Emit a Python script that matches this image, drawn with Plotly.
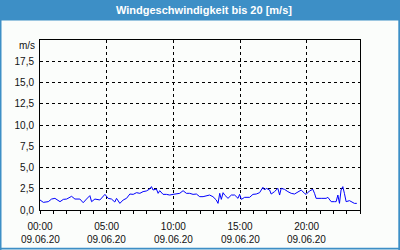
import plotly.graph_objects as go

hours = [0.00, 0.25, 0.62, 0.87, 1.12, 1.50, 1.75, 2.00, 2.37, 2.62, 2.99, 3.24, 3.49, 3.74, 3.87,
         4.12, 4.49, 4.87, 5.11, 5.36, 5.61, 5.74, 5.99, 6.24, 6.49, 6.74, 6.99, 7.24, 7.49, 7.73,
         7.98, 8.23, 8.36, 8.48, 8.73, 8.86, 8.98, 9.23, 9.48, 9.73, 9.98, 10.23, 10.48, 10.73,
         10.98, 11.23, 11.48, 11.73, 11.98, 12.23, 12.48, 12.72, 12.97, 13.22, 13.35, 13.48, 13.60,
         13.73, 13.85, 14.10, 14.35, 14.60, 14.85, 14.97, 15.10, 15.35, 15.72, 15.97, 16.22, 16.47,
         16.72, 16.85, 16.97, 17.22, 17.34, 17.59, 17.84, 17.97, 18.09, 18.34, 18.59, 18.84, 19.09,
         19.34, 19.59, 19.84, 19.96, 20.21, 20.46, 20.59, 20.71, 21.09, 21.46, 21.59, 21.84, 22.09,
         22.21, 22.34, 22.46, 22.58, 22.71, 22.83, 22.96, 23.21, 23.33, 23.58, 23.76]
speed = [1.18, 0.90, 0.98, 1.29, 1.37, 0.98, 1.25, 1.29, 1.61, 1.29, 1.29, 0.86, 1.29, 1.69, 0.98,
         1.29, 1.18, 1.84, 1.37, 1.29, 0.94, 1.37, 0.78, 1.18, 1.37, 1.88, 1.84, 2.04, 1.96, 2.16,
         2.24, 2.47, 2.75, 2.35, 2.47, 1.96, 2.27, 1.84, 1.84, 1.76, 1.84, 1.88, 1.96, 2.27,
         1.96, 1.96, 1.84, 1.88, 1.57, 1.57, 1.69, 1.76, 1.57, 1.18, 0.78, 1.96, 1.25,
         2.04, 1.76, 1.37, 1.76, 1.76, 1.37, 1.84, 1.25, 1.49, 1.49, 1.84, 1.88, 2.04,
         2.67, 2.35, 2.55, 2.35, 1.88, 2.16, 2.55, 1.76, 2.55, 2.43, 2.16, 1.96, 1.88,
         2.16, 2.35, 1.96, 1.84, 2.24, 2.43, 1.96, 1.37, 1.37, 1.37, 1.49, 0.98, 0.98,
         0.98, 1.76, 0.78, 2.35, 2.75, 1.96, 0.98, 1.10, 0.98, 0.78, 0.78]

y_ticks = [0, 2.5, 5, 7.5, 10, 12.5, 15, 17.5]
y_tick_labels = ["0,0", "2,5", "5,0", "7,5", "10,0", "12,5", "15,0", "17,5"]
x_ticks = [0, 5, 10, 15, 20]
x_time_labels = ["00:00", "05:00", "10:00", "15:00", "20:00"]
x_date_labels = ["09.06.20", "09.06.20", "09.06.20", "09.06.20", "09.06.20"]
title_text = "Windgeschwindigkeit bis 20 [m/s]"
unit_text = "m/s"

W, H = 400, 250
L, R, T, B = 40, 40, 40, 40
PW, PH = W - L - R, H - T - B


def px(x):
    return (x - L) / PW


def py(y):
    return (H - B - y) / PH


BLUE = "#3d8fc6"
FONT = "Liberation Sans"
TXT = "#111111"

fig = go.Figure()
fig.add_trace(go.Scatter(x=hours, y=speed, mode="lines",
                         line=dict(color="#0000ff", width=1), hoverinfo="skip"))

shapes = [
    dict(type="rect", xref="paper", yref="paper", x0=px(0), x1=px(400), y0=py(20.5), y1=py(0),
         fillcolor=BLUE, line=dict(width=0), layer="below"),
    dict(type="rect", xref="paper", yref="paper", x0=px(0), x1=px(1.5), y0=py(250), y1=py(20),
         fillcolor=BLUE, line=dict(width=0)),
    dict(type="rect", xref="paper", yref="paper", x0=px(398.3), x1=px(400), y0=py(250), y1=py(20),
         fillcolor=BLUE, line=dict(width=0)),
    dict(type="rect", xref="paper", yref="paper", x0=px(0), x1=px(400), y0=py(249.5), y1=py(247.8),
         fillcolor=BLUE, line=dict(width=0)),
]

annotations = [
    dict(text="<b>" + title_text + "</b>", xref="paper", yref="paper",
         x=px(204), y=py(10.5), showarrow=False, xanchor="center", yanchor="middle",
         font=dict(family=FONT, size=11, color="white")),
    dict(text=unit_text, xref="paper", yref="paper", x=px(37), y=py(45),
         showarrow=False, xanchor="right", yanchor="middle",
         font=dict(family=FONT, size=10, color=TXT)),
]
for xv, lab in zip(x_ticks, x_date_labels):
    annotations.append(dict(text=lab, xref="x", yref="paper", x=xv, y=py(239.5),
                            showarrow=False, xanchor="center", yanchor="middle",
                            font=dict(family=FONT, size=10, color=TXT)))

fig.update_layout(
    width=W, height=H,
    margin=dict(l=L, r=R, t=T, b=B),
    paper_bgcolor="#fbfdfb", plot_bgcolor="#fbfdfb",
    showlegend=False,
    shapes=shapes,
    font=dict(family=FONT, size=10, color=TXT),
    annotations=annotations,
    xaxis=dict(range=[0, 24], tickvals=x_ticks, ticktext=x_time_labels,
               showgrid=True, gridcolor="black", gridwidth=1, griddash="3px,3px",
               showline=True, linecolor="black", linewidth=1, mirror=True,
               ticks="", zeroline=False, ticklabelstandoff=7,
               minor=dict(dtick=1, tick0=0, ticks="outside", ticklen=3, tickcolor="black",
                          showgrid=False),
               tickfont=dict(family=FONT, size=10, color=TXT)),
    yaxis=dict(range=[0, 20], tickvals=y_ticks, ticktext=y_tick_labels,
               showgrid=True, gridcolor="black", gridwidth=1, griddash="3px,3px",
               showline=True, linecolor="black", linewidth=1, mirror=True,
               ticks="", zeroline=False, ticklabelstandoff=3,
               tickfont=dict(family=FONT, size=10, color=TXT)),
)

fig.write_html("out.html")
